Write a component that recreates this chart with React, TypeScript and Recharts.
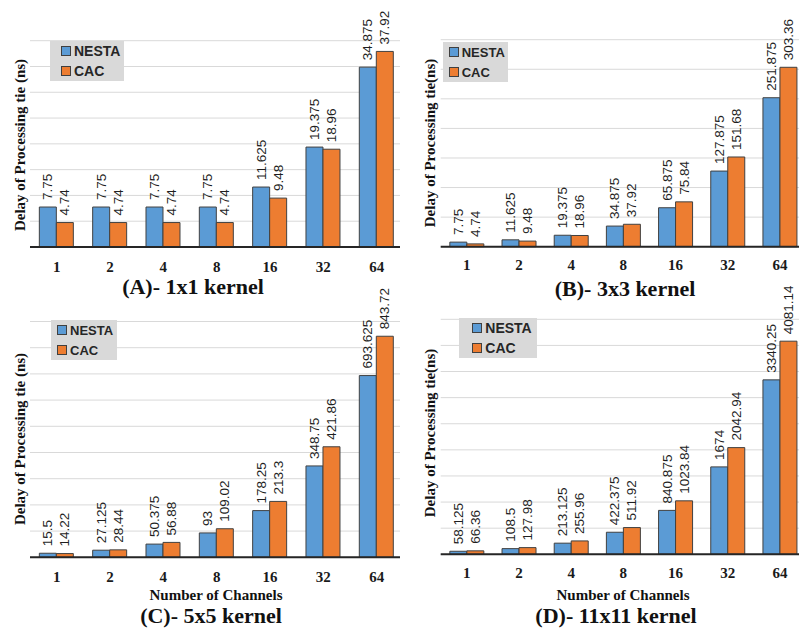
import React from "react";
import { BarChart, Bar, XAxis, YAxis, CartesianGrid, Legend, LabelList } from "recharts";

const channels = ["1", "2", "4", "8", "16", "32", "64"];
const seriesNames = ["NESTA", "CAC"];

const nesta1x1 = [7.75, 7.75, 7.75, 7.75, 11.625, 19.375, 34.875];
const cac1x1 = [4.74, 4.74, 4.74, 4.74, 9.48, 18.96, 37.92];

const nesta3x3 = [7.75, 11.625, 19.375, 34.875, 65.875, 127.875, 251.875];
const cac3x3 = [4.74, 9.48, 18.96, 37.92, 75.84, 151.68, 303.36];

const nesta5x5 = [15.5, 27.125, 50.375, 93, 178.25, 348.75, 693.625];
const cac5x5 = [14.22, 28.44, 56.88, 109.02, 213.3, 421.86, 843.72];

const nesta11x11 = [58.125, 108.5, 213.125, 422.375, 840.875, 1674, 3340.25];
const cac11x11 = [66.36, 127.98, 255.96, 511.92, 1023.84, 2042.94, 4081.14];

const ticks1x1 = [0, 5, 10, 15, 20, 25, 30, 35, 40];
const ticks3x3 = [0, 50, 100, 150, 200, 250, 300, 350];
const ticks5x5 = [0, 100, 200, 300, 400, 500, 600, 700, 800, 900];
const ticks11x11 = [0, 500, 1000, 1500, 2000, 2500, 3000, 3500, 4000, 4500];

const BLUE = "#5b9bd5";
const ORANGE = "#ed7d31";

const toRows = (nesta: number[], cac: number[]) =>
  channels.map((c, i) => ({ channel: c, NESTA: nesta[i], CAC: cac[i] }));

const VLabel = (props: any) => {
  const { x, y, width, value } = props;
  const cx = x + width / 2;
  const ty = y - 7;
  return (
    <text
      x={cx}
      y={ty}
      transform={`rotate(-90 ${cx} ${ty})`}
      textAnchor="start"
      dominantBaseline="central"
      fontSize={13.5}
      fontFamily="Liberation Sans, Arial, sans-serif"
      fill="#1f1f1f"
    >
      {value}
    </text>
  );
};

const LegendBox = ({ payload, boxWidth, pad, fontSize }: any) => {
  const items = [...(payload || [])].sort(
    (a: any, b: any) => seriesNames.indexOf(a.value) - seriesNames.indexOf(b.value)
  );
  return (
    <div style={{ background: "#d9d9d9", width: boxWidth, height: 40, paddingLeft: pad, boxSizing: "border-box" }}>
      {items.map((p: any) => (
        <div
          key={p.value}
          style={{
            display: "flex",
            alignItems: "center",
            height: 20,
            whiteSpace: "nowrap",
            font: `700 ${fontSize}px 'Liberation Sans', Arial, sans-serif`,
            color: "#262626",
          }}
        >
          <span
            style={{
              display: "inline-block",
              flexShrink: 0,
              width: 8,
              height: 8,
              background: p.color,
              border: "1px solid #404040",
              marginRight: 3,
            }}
          />
          {p.value}
        </div>
      ))}
    </div>
  );
};

type PanelProps = {
  left: number;
  top: number;
  width: number;
  height: number;
  plotLeft: number;
  plotRight: number;
  plotTop: number;
  axisY: number;
  nesta: number[];
  cac: number[];
  ticks: number[];
  tickMargin: number;
  legendLeft: number;
  legendTop: number;
  legendWidth: number;
  legendPad: number;
  legendFont: number;
};

function Panel(p: PanelProps) {
  const chartW = p.plotRight + 10;
  const chartH = p.height;
  const axisH = 30;
  const rows = toRows(p.nesta, p.cac);
  return (
    <div style={{ position: "absolute", left: p.left, top: p.top, width: p.width, height: p.height, overflow: "hidden" }}>
      <BarChart
        width={chartW}
        height={chartH}
        data={rows}
        margin={{ top: p.plotTop, left: p.plotLeft, right: chartW - p.plotRight, bottom: chartH - p.axisY - axisH }}
        barGap={0}
        barCategoryGap="17.5%"
      >
        <CartesianGrid vertical={false} stroke="#d9d9d9" />
        <XAxis
          dataKey="channel"
          height={axisH}
          tickLine={false}
          tickMargin={p.tickMargin}
          axisLine={{ stroke: "#262626", strokeWidth: 2 }}
          tick={{ fontSize: 15, fontWeight: 700, fontFamily: "Liberation Serif, serif", fill: "#1a1a1a" }}
        />
        <YAxis hide domain={[0, p.ticks[p.ticks.length - 1]]} ticks={p.ticks} />
        <Legend
          layout="vertical"
          align="center"
          verticalAlign="middle"
          wrapperStyle={{ left: p.legendLeft, top: p.legendTop, width: p.legendWidth }}
          content={(lp: any) => (
            <LegendBox payload={lp.payload} boxWidth={p.legendWidth} pad={p.legendPad} fontSize={p.legendFont} />
          )}
        />
        <Bar dataKey="NESTA" fill={BLUE} stroke="#404040" strokeWidth={1} isAnimationActive={false}>
          <LabelList dataKey="NESTA" content={VLabel} />
        </Bar>
        <Bar dataKey="CAC" fill={ORANGE} stroke="#404040" strokeWidth={1} isAnimationActive={false}>
          <LabelList dataKey="CAC" content={VLabel} />
        </Bar>
      </BarChart>
    </div>
  );
}

const titleStyle: React.CSSProperties = {
  position: "absolute",
  transform: "translate(-50%, -50%)",
  whiteSpace: "nowrap",
  font: "700 22px 'Liberation Serif', serif",
  color: "#111",
  lineHeight: 1,
};

const axisTitleStyle: React.CSSProperties = {
  position: "absolute",
  transform: "translate(-50%, -50%)",
  whiteSpace: "nowrap",
  font: "700 15px 'Liberation Serif', serif",
  color: "#111",
  lineHeight: 1,
};

const yTitleStyle: React.CSSProperties = {
  position: "absolute",
  transform: "translate(-50%, -50%) rotate(-90deg)",
  whiteSpace: "nowrap",
  font: "700 15px 'Liberation Serif', serif",
  color: "#111",
  lineHeight: 1,
};

export default function App() {
  return (
    <div style={{ position: "absolute", left: 0, top: 0, width: 799, height: 631, background: "#fff", overflow: "hidden" }}>
      <Panel left={0} top={0} width={400} height={300} plotLeft={30} plotRight={403.3} plotTop={40.7} axisY={247}
        nesta={nesta1x1} cac={cac1x1} ticks={ticks1x1} tickMargin={8}
        legendLeft={50} legendTop={40.7} legendWidth={74} legendPad={11} legendFont={14} />
      <Panel left={400} top={0} width={399} height={300} plotLeft={40.7} plotRight={406} plotTop={39.7} axisY={246.7}
        nesta={nesta3x3} cac={cac3x3} ticks={ticks3x3} tickMargin={7}
        legendLeft={42.7} legendTop={42} legendWidth={65} legendPad={6} legendFont={13} />
      <Panel left={0} top={270} width={400} height={361} plotLeft={30} plotRight={403.3} plotTop={51.5} axisY={287.3}
        nesta={nesta5x5} cac={cac5x5} ticks={ticks5x5} tickMargin={8}
        legendLeft={51} legendTop={50} legendWidth={66} legendPad={6} legendFont={13} />
      <Panel left={400} top={270} width={399} height={361} plotLeft={40.7} plotRight={406} plotTop={49.3} axisY={284.3}
        nesta={nesta11x11} cac={cac11x11} ticks={ticks11x11} tickMargin={7}
        legendLeft={59.3} legendTop={48.3} legendWidth={78} legendPad={13} legendFont={14} />

      <div style={{ ...yTitleStyle, left: 20, top: 145 }}>Delay of Processing tie (ns)</div>
      <div style={{ ...yTitleStyle, left: 430, top: 143 }}>Delay of Processing tie(ns)</div>
      <div style={{ ...yTitleStyle, left: 20, top: 439 }}>Delay of Processing tie (ns)</div>
      <div style={{ ...yTitleStyle, left: 430, top: 433 }}>Delay of Processing tie(ns)</div>

      <div style={{ ...axisTitleStyle, left: 216, top: 595 }}>Number of Channels</div>
      <div style={{ ...axisTitleStyle, left: 623, top: 595 }}>Number of Channels</div>

      <div style={{ ...titleStyle, left: 193, top: 287 }}>(A)- 1x1 kernel</div>
      <div style={{ ...titleStyle, left: 625, top: 289 }}>(B)- 3x3 kernel</div>
      <div style={{ ...titleStyle, left: 211, top: 616 }}>(C)- 5x5 kernel</div>
      <div style={{ ...titleStyle, left: 616, top: 616 }}>(D)- 11x11 kernel</div>
    </div>
  );
}
